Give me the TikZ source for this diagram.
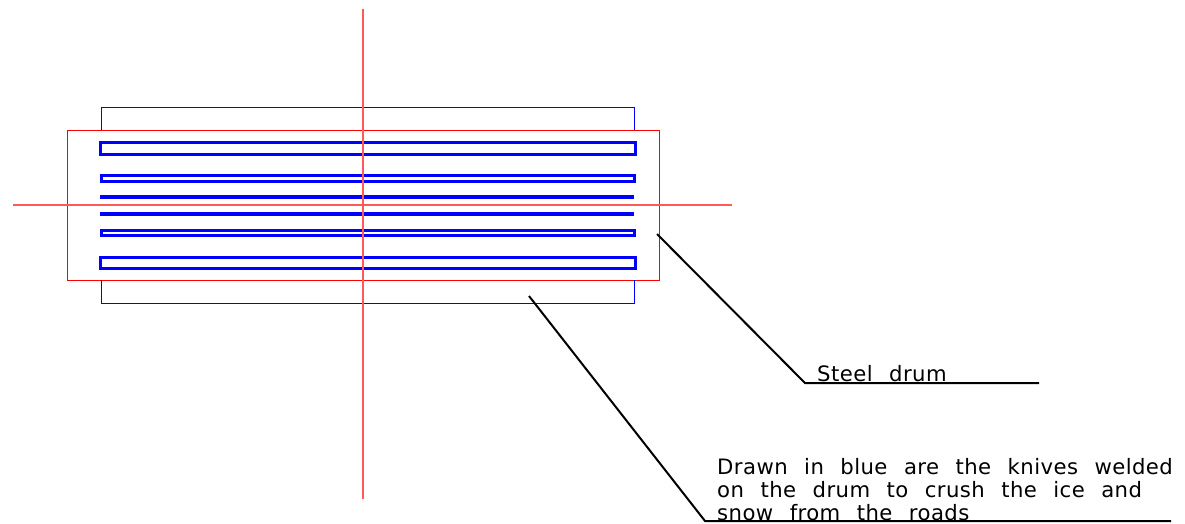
\documentclass[tikz,border=0pt]{standalone}
\usepackage{fontspec}
\newfontfamily\notefont[WordSpace=2.3,LetterSpace=2]{DejaVu Sans}
\tikzset{
	drumline/.style={draw=red, line width=1pt},
	axisline/.style={draw=red!65, line width=1.1pt},
	guardline/.style={draw=blue, line width=1pt},
	knifeline/.style={draw=blue, line width=3pt},
	bladeline/.style={draw=blue, line width=4pt},
	leaderline/.style={draw=black, line width=2pt},
	notetext/.style={anchor=base west, inner sep=0pt, font=\notefont\fontsize{21.2}{24}\selectfont}
}

\begin{document}
\begin{tikzpicture}[x=1pt, y=-1pt]
	\useasboundingbox (0,0) rectangle (1185,523);
	
	% Drum
	\draw[drumline] (67,130) rectangle (659,280);
	
	% Outer knives
	\draw[guardline] (101,130) -- (101,107) -- (634,107) -- (634,130);
	\draw[guardline] (101,280) -- (101,303) -- (634,303) -- (634,280);
	
	% Knives on the drum
	\draw[knifeline] (100.5,142.5) rectangle (635,154);
	\draw[knifeline] (101.5,175.5) rectangle (634,181);
	\draw[bladeline] (100,197) -- (634,197);
	\draw[bladeline] (100,213.5) -- (634,213.5);
	\draw[knifeline] (101.5,230) rectangle (634,235);
	\draw[knifeline] (100.5,257) rectangle (635,268);
	
	% Center lines
	\draw[axisline] (363,9) -- (363,499);
	\draw[axisline] (13,205) -- (732,205);
	
	% Labels
	\node[notetext] (steeltext) at (817,381) {Steel drum};
	\node[notetext] (bluetext) at (717,474) {Drawn in blue are the knives welded};
	\node[notetext] (ontext) at (717,497) {on the drum to crush the ice and};
	\node[notetext] (snowtext) at (717,520) {snow from the roads};
	
	% Leaders
	\coordinate (steeltip) at (657,234);
	\coordinate (steelbend) at (805,383);
	\coordinate (steelend) at (1039,383);
	\coordinate (bluetip) at (529,296);
	\coordinate (bluebend) at (705,521);
	\coordinate (blueend) at (1171,521);
	\draw[leaderline] (steeltip) -- (steelbend) -- (steelend);
	\draw[leaderline] (bluetip) -- (bluebend) -- (blueend);
\end{tikzpicture}
\end{document}
